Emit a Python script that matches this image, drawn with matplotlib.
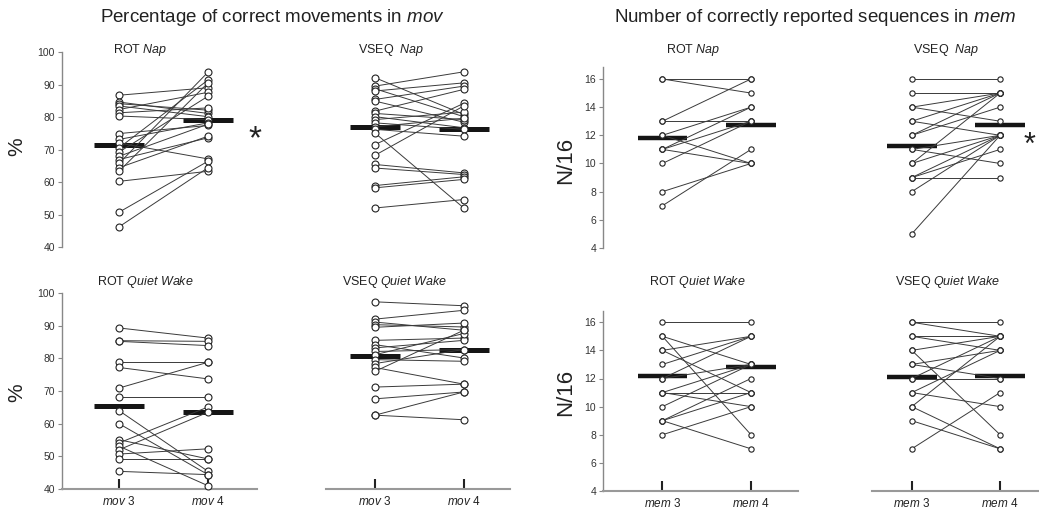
import numpy as np
import matplotlib
matplotlib.use('Agg')
import matplotlib.pyplot as plt

plt.rcParams['font.family'] = ['Liberation Sans', 'DejaVu Sans']
plt.rcParams['mathtext.fontset'] = 'custom'
plt.rcParams['mathtext.rm'] = 'Liberation Sans'
plt.rcParams['mathtext.it'] = 'Liberation Sans:italic'

# percentage of correct movements (mov 3 -> mov 4)
rot_nap_mov_pre = [86.7, 84.6, 84.1, 83.4, 82.3, 81.3, 80.3, 74.9, 73.1, 72.0, 70.5, 69.2, 67.9, 66.9, 65.7, 64.4, 63.3, 60.2, 50.7, 46.2]
rot_nap_mov_post = [89.0, 81.1, 82.1, 80.1, 87.6, 82.8, 79.2, 77.4, 78.2, 67.1, 91.4, 86.4, 77.8, 73.6, 93.8, 74.1, 90.5, 63.3, 66.4, 64.4]
vseq_nap_mov_pre = [92.1, 89.5, 88.7, 88.0, 85.4, 84.9, 81.8, 81.1, 80.1, 79.2, 78.2, 77.0, 76.2, 75.1, 71.5, 68.2, 65.4, 64.3, 58.9, 58.2, 52.0]
vseq_nap_mov_post = [80.8, 93.9, 80.1, 90.5, 89.5, 78.4, 88.5, 79.2, 76.7, 81.5, 76.2, 79.6, 74.1, 52.0, 84.2, 83.4, 62.8, 62.3, 61.6, 60.8, 54.6]
rot_qw_mov_pre = [89.3, 85.4, 85.2, 78.8, 77.2, 70.9, 68.1, 64.0, 60.0, 55.1, 54.1, 53.1, 52.0, 50.7, 49.2, 45.4]
rot_qw_mov_post = [86.2, 85.2, 83.9, 78.8, 73.7, 78.8, 68.1, 45.4, 44.4, 49.2, 65.1, 41.0, 63.5, 52.3, 49.2, 44.4]
vseq_qw_mov_pre = [97.3, 92.0, 91.1, 90.3, 89.5, 85.5, 84.2, 83.2, 82.1, 81.1, 79.6, 78.4, 77.2, 76.0, 71.2, 67.6, 62.6, 62.6]
vseq_qw_mov_post = [96.1, 94.7, 88.6, 89.6, 90.8, 86.2, 80.1, 85.5, 82.7, 87.6, 79.1, 82.7, 72.1, 88.6, 72.1, 69.7, 69.7, 61.2]

# correctly reported sequences out of 16 (mem 3 -> mem 4)
rot_nap_mem_pre = [16, 16, 13, 13, 12, 12, 11, 11, 11, 10, 8, 7]
rot_nap_mem_post = [16, 15, 16, 13, 14, 10, 14, 13, 10, 13, 10, 11]
vseq_nap_mem_pre = [16, 15, 14, 14, 13, 13, 12, 12, 11, 11, 10, 10, 9, 9, 9, 8, 5]
vseq_nap_mem_post = [16, 15, 15, 13, 15, 12, 15, 14, 12, 10, 15, 12, 12, 11, 9, 12, 12]
rot_qw_mem_pre = [16, 15, 15, 14, 14, 13, 12, 12, 11, 11, 11, 10, 9, 9, 9, 8]
rot_qw_mem_post = [16, 13, 8, 15, 11, 15, 15, 13, 13, 11, 10, 13, 12, 11, 7, 10]
vseq_qw_mem_pre = [16, 16, 15, 15, 14, 14, 13, 13, 12, 12, 11, 11, 10, 10, 9, 7]
vseq_qw_mem_post = [16, 15, 15, 14, 15, 8, 14, 12, 15, 12, 10, 14, 15, 7, 7, 11]

# group means (thick bars) as drawn
rot_nap_mov_mean = [71.5, 79.0]
vseq_nap_mov_mean = [77.0, 76.4]
rot_qw_mov_mean = [65.3, 63.7]
vseq_qw_mov_mean = [80.8, 82.4]
rot_nap_mem_mean = [11.8, 12.7]
vseq_nap_mem_mean = [11.25, 12.75]
rot_qw_mem_mean = [12.2, 12.8]
vseq_qw_mem_mean = [12.1, 12.2]

mov_ticks = [40, 50, 60, 70, 80, 90, 100]
mem_ticks = [4, 6, 8, 10, 12, 14, 16]
mov_labels = [r'$\it{mov}$ 3', r'$\it{mov}$ 4']
mem_labels = [r'$\it{mem}$ 3', r'$\it{mem}$ 4']

W, H = 1039, 509
fig = plt.figure(figsize=(W / 100, H / 100), dpi=100)


def px_axes(left, top, right, bottom):
    return fig.add_axes([left / W, 1 - bottom / H, (right - left) / W, (bottom - top) / H])


def ftext(x, y, s, **kw):
    fig.text(x / W, 1 - y / H, s, ha='center', va='center', color='#222', **kw)


def panel(rect, pre, post, means, xlim, ylim, ms, yticks=None, xlabels=None, barw=3.6):
    ax = px_axes(*rect)
    ax.patch.set_alpha(0)
    for a, b in zip(pre, post):
        ax.plot([1, 2], [a, b], color='#3a3a3a', lw=0.7, marker='o', ms=ms,
                mfc='white', mec='#222', mew=0.8, clip_on=False, zorder=3)
    for xi, m in zip([1, 2], means):
        ax.plot([xi - 0.28, xi + 0.28], [m, m], color='#151515', lw=barw,
                solid_capstyle='butt', zorder=2, clip_on=False)
    ax.set_xlim(*xlim)
    ax.set_ylim(*ylim)
    for s in ['top', 'right']:
        ax.spines[s].set_visible(False)
    if yticks is None:
        ax.spines['left'].set_visible(False)
        ax.set_yticks([])
    else:
        ax.spines['left'].set_color('#888')
        ax.spines['left'].set_linewidth(1)
        ax.set_yticks(yticks)
        ax.tick_params(axis='y', direction='out', length=3, color='#888',
                       labelsize=7.5, labelcolor='#333', pad=2)
    if xlabels is None:
        ax.spines['bottom'].set_visible(False)
        ax.set_xticks([])
    else:
        ax.spines['bottom'].set_color('#999')
        ax.spines['bottom'].set_linewidth(1.5)
        ax.set_xticks([1, 2])
        ax.set_xticklabels(xlabels)
        ax.tick_params(axis='x', direction='in', length=7, width=1.5, color='#222',
                       labelsize=8.5, labelcolor='#222', pad=4)
    return ax


# left group: percentage in mov
panel((62, 52, 257, 247), rot_nap_mov_pre, rot_nap_mov_post, rot_nap_mov_mean,
      (0.36, 2.55), (40, 100), 5, yticks=mov_ticks)
panel((326, 52, 510, 247), vseq_nap_mov_pre, vseq_nap_mov_post, vseq_nap_mov_mean,
      (0.45, 2.52), (40, 100), 5)
panel((62, 293, 257, 489), rot_qw_mov_pre, rot_qw_mov_post, rot_qw_mov_mean,
      (0.36, 2.55), (40, 100), 5, yticks=mov_ticks, xlabels=mov_labels)
panel((326, 293, 510, 489), vseq_qw_mov_pre, vseq_qw_mov_post, vseq_qw_mov_mean,
      (0.45, 2.52), (40, 100), 5, xlabels=mov_labels)

# right group: sequences in mem
panel((603, 67, 798, 248), rot_nap_mem_pre, rot_nap_mem_post, rot_nap_mem_mean,
      (0.33, 2.53), (4, 16.85), 3.8, yticks=mem_ticks, barw=3.2)
panel((872, 67, 1039, 248), vseq_nap_mem_pre, vseq_nap_mem_post, vseq_nap_mem_mean,
      (0.55, 2.44), (4, 16.85), 3.8, barw=3.2)
panel((603, 311, 798, 491), rot_qw_mem_pre, rot_qw_mem_post, rot_qw_mem_mean,
      (0.33, 2.53), (4, 16.8), 3.8, yticks=mem_ticks, xlabels=mem_labels, barw=3.2)
panel((872, 311, 1039, 491), vseq_qw_mem_pre, vseq_qw_mem_post, vseq_qw_mem_mean,
      (0.55, 2.44), (4, 16.8), 3.8, xlabels=mem_labels, barw=3.2)

# headings
ftext(272, 17, r'Percentage of correct movements in $\it{mov}$', fontsize=13.5)
ftext(815, 17, r'Number of correctly reported sequences in $\it{mem}$', fontsize=13.5)

ftext(140, 50, r'ROT $\it{Nap}$', fontsize=9)
ftext(391, 50, r'VSEQ  $\it{Nap}$', fontsize=9)
ftext(145, 282, r'ROT $\it{Quiet\ Wake}$', fontsize=9)
ftext(395, 282, r'VSEQ $\it{Quiet\ Wake}$', fontsize=9)
ftext(693, 50, r'ROT $\it{Nap}$', fontsize=9)
ftext(946, 50, r'VSEQ  $\it{Nap}$', fontsize=9)
ftext(697, 282, r'ROT $\it{Quiet\ Wake}$', fontsize=9)
ftext(948, 282, r'VSEQ $\it{Quiet\ Wake}$', fontsize=9)

ftext(17, 147, '%', fontsize=15, rotation=90)
ftext(17, 393, '%', fontsize=15, rotation=90)
ftext(566, 160, 'N/16', fontsize=16, rotation=90)
ftext(566, 392, 'N/16', fontsize=16, rotation=90)

ftext(255, 140, '*', fontsize=24)
ftext(1030, 146, '*', fontsize=22)

fig.savefig('out.png', dpi=100, facecolor='white')
